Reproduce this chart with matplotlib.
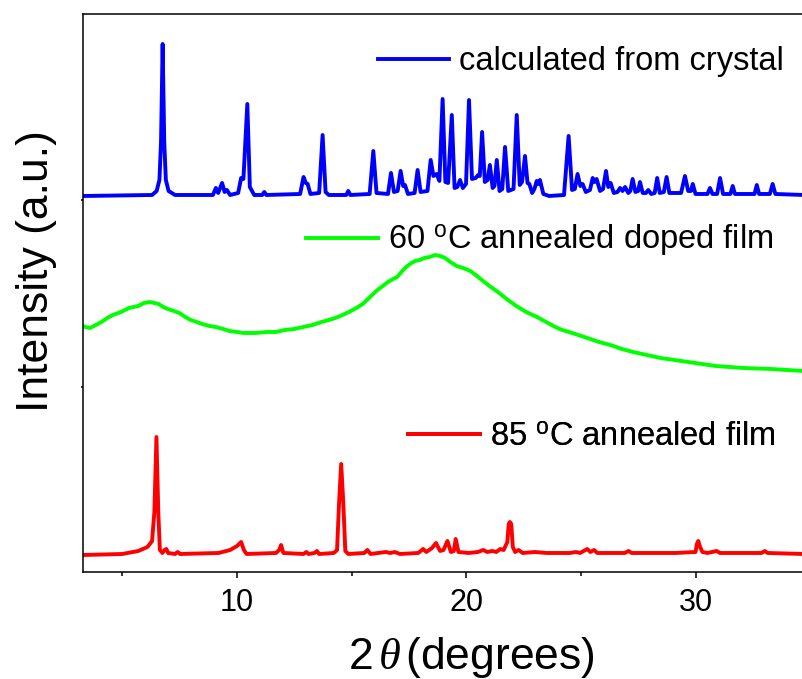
import numpy as np
import matplotlib.pyplot as plt
from matplotlib import ticker

plt.rcParams['font.family'] = ['Liberation Sans', 'DejaVu Sans']
plt.rcParams['mathtext.fontset'] = 'custom'
plt.rcParams['mathtext.rm'] = 'Liberation Sans'
plt.rcParams['mathtext.it'] = 'Liberation Serif:italic'

# traced patterns: (2theta, stacked intensity in a.u.)
calc_pts = [(3.3, 376), (6.30, 377), (6.50, 381), (6.62, 392), (6.69, 430), (6.76, 528), (6.83, 430),
            (6.90, 392), (7.02, 381), (7.30, 377), (8.95, 377), (9.08, 384), (9.18, 379), (9.35, 389),
            (9.46, 380), (9.56, 382), (9.70, 377), (10.05, 379), (10.18, 394), (10.28, 393), (10.45, 468),
            (10.56, 385), (10.75, 377), (11.10, 377), (11.19, 380), (11.28, 377), (12.75, 378), (12.90, 395),
            (13.00, 389), (13.08, 388), (13.20, 378), (13.58, 379), (13.73, 437), (13.86, 380), (14.0, 377),
            (14.76, 377), (14.85, 381), (14.94, 377), (15.78, 378), (15.94, 421), (16.08, 379), (16.58, 378),
            (16.71, 399), (16.84, 380), (17.0, 381), (17.13, 401), (17.24, 386), (17.32, 387), (17.45, 378),
            (17.74, 379), (17.87, 402), (18.0, 380), (18.3, 381), (18.44, 412), (18.56, 396), (18.70, 398),
            (18.82, 391), (18.96, 473), (19.08, 390), (19.20, 389), (19.36, 457), (19.48, 384), (19.60, 385),
            (19.72, 392), (19.84, 384), (19.98, 388), (20.11, 472), (20.24, 393), (20.40, 394), (20.51, 397),
            (20.58, 396), (20.68, 440), (20.80, 390), (20.92, 392), (21.02, 407), (21.14, 384), (21.22, 386),
            (21.32, 412), (21.44, 381), (21.56, 383), (21.68, 425), (21.82, 381), (22.05, 383), (22.19, 457),
            (22.32, 387), (22.42, 390), (22.55, 416), (22.66, 389), (22.74, 388), (22.86, 379), (22.96, 383),
            (23.06, 391), (23.13, 388), (23.20, 392), (23.35, 378), (23.6, 376), (24.25, 377), (24.45, 436),
            (24.60, 382), (24.72, 383), (24.84, 398), (24.96, 386), (25.06, 388), (25.20, 380), (25.38, 382),
            (25.50, 394), (25.58, 390), (25.67, 393), (25.82, 381), (25.95, 383), (26.08, 401), (26.18, 385),
            (26.28, 389), (26.42, 379), (26.58, 380), (26.69, 384), (26.80, 381), (26.91, 385), (27.05, 379),
            (27.14, 381), (27.24, 393), (27.36, 380), (27.48, 381), (27.56, 390), (27.68, 379), (27.82, 379),
            (27.92, 382), (28.05, 378), (28.20, 379), (28.31, 394), (28.42, 379), (28.60, 380), (28.72, 395),
            (28.84, 379), (29.35, 379), (29.52, 396), (29.66, 381), (29.78, 381), (29.86, 388), (29.98, 378),
            (30.50, 378), (30.61, 384), (30.72, 378), (30.92, 378), (31.05, 394), (31.18, 378), (31.50, 378),
            (31.60, 386), (31.70, 378), (32.55, 378), (32.65, 387), (32.75, 378), (33.22, 378), (33.34, 388),
            (33.46, 378), (34.7, 377)]

film60_pts = [(3.30, 246), (3.39, 245), (3.59, 244), (3.85, 247), (4.09, 250), (4.35, 254), (4.59, 257),
              (4.95, 260), (5.29, 264), (5.69, 266), (5.95, 269), (6.19, 270), (6.40, 269), (6.59, 268),
              (6.78, 265), (6.98, 263), (7.25, 261), (7.49, 259), (7.75, 255), (7.98, 252), (8.25, 250),
              (8.48, 248), (8.80, 246), (9.08, 245), (9.40, 243), (9.68, 241), (10.0, 240), (10.28, 239),
              (10.80, 239), (11.28, 240), (11.70, 240), (12.08, 242), (12.50, 243), (12.88, 245), (13.30, 247),
              (13.68, 250), (14.0, 252), (14.28, 254), (14.60, 257), (14.88, 260), (15.20, 264), (15.48, 268),
              (15.80, 275), (16.07, 281), (16.35, 286), (16.58, 290), (16.80, 293), (16.98, 295), (17.20, 301),
              (17.37, 305), (17.60, 309), (17.77, 311), (17.97, 312), (18.17, 314), (18.40, 315), (18.63, 317),
              (18.85, 316), (19.07, 314), (19.30, 310), (19.57, 306), (19.85, 304), (20.17, 301), (20.40, 297),
              (20.67, 292), (21.00, 286), (21.37, 280), (21.75, 273), (22.17, 266), (22.60, 260), (23.07, 255),
              (23.47, 250), (23.87, 245), (24.17, 242), (24.47, 240), (24.87, 237), (25.27, 234), (25.77, 230),
              (26.27, 227), (26.77, 223), (27.26, 220), (27.86, 217), (28.46, 214), (29.06, 212), (29.66, 210),
              (30.26, 208), (30.86, 206), (31.46, 205), (32.06, 204), (32.66, 203.5), (33.26, 203),
              (33.96, 202), (34.7, 201)]

film85_pts = [(3.3, 17), (5.0, 18), (5.7, 21), (6.1, 25), (6.30, 31), (6.40, 60), (6.49, 135), (6.57, 60),
              (6.64, 22), (6.75, 19), (6.84, 22), (6.92, 23), (7.0, 19), (7.3, 18), (7.42, 20), (7.52, 18),
              (9.2, 19), (9.7, 22), (10.0, 26), (10.18, 30), (10.30, 22), (10.42, 18), (11.70, 19), (11.84, 22),
              (11.92, 27), (12.02, 19), (12.9, 18), (13.02, 20), (13.12, 18), (13.38, 19), (13.48, 21),
              (13.58, 18), (14.22, 19), (14.36, 22), (14.45, 70), (14.54, 108), (14.63, 70), (14.72, 21),
              (14.85, 18), (15.55, 19), (15.68, 22), (15.82, 18), (16.48, 20), (16.68, 19), (16.88, 20),
              (17.1, 18), (17.9, 19), (18.11, 23), (18.25, 20), (18.50, 24), (18.67, 29), (18.85, 21),
              (19.0, 22), (19.17, 31), (19.32, 20), (19.45, 21), (19.53, 33), (19.65, 20), (20.1, 19),
              (20.5, 20), (20.73, 22), (20.9, 20), (21.13, 21), (21.30, 20), (21.47, 23), (21.62, 22),
              (21.78, 30), (21.84, 48), (21.89, 50), (21.95, 48), (22.02, 25), (22.12, 20), (22.27, 22),
              (22.45, 19), (22.97, 20), (23.5, 19), (24.5, 19), (24.77, 20), (24.95, 19), (25.26, 23),
              (25.40, 20), (25.56, 22), (25.70, 19), (26.17, 19), (26.9, 19), (27.06, 21), (27.2, 19),
              (29.1, 19), (29.98, 20), (30.04, 28), (30.10, 31), (30.18, 25), (30.28, 20), (30.5, 19),
              (30.90, 21), (31.05, 19), (32.85, 19), (33.00, 21), (33.12, 19), (34.7, 18)]

labels = ['calculated from crystal', '60 $^{\\mathrm{o}}$C annealed doped film', '85 $^{\\mathrm{o}}$C annealed film']
colors = ['#0000ff', '#00ff00', '#ff0000']
# legend anchors (axes fraction, right edge / vertical centre)
anchors = [(0.975, 0.914), (0.960, 0.594), (0.963, 0.242)]

fig = plt.figure(figsize=(8.02, 6.79), dpi=100)
ax = fig.add_axes([0.1035, 0.1576, 0.8965, 0.8218])

lines = []
for pts, c in zip([calc_pts, film60_pts, film85_pts], colors):
    x, y = np.array(pts).T
    ln, = ax.plot(x, y, color=c, lw=2.8, solid_joinstyle='round')
    lines.append(ln)

# one legend per pattern, placed next to its curve
for ln, lab, (ax_x, ax_y) in zip(lines, labels, anchors):
    leg = ax.legend([ln], [lab], loc='center right', bbox_to_anchor=(ax_x, ax_y), frameon=False,
                    fontsize=23.5, handlelength=2.2, handletextpad=0.3, borderpad=0, borderaxespad=0)
    ax.add_artist(leg)

ax.set_xlim(3.29, 34.62)
ax.set_ylim(0, 558)
ax.xaxis.set_major_locator(ticker.MultipleLocator(10))
ax.xaxis.set_minor_locator(ticker.MultipleLocator(5))
ax.set_yticks([185, 372])
ax.set_yticklabels([])
ax.tick_params(axis='x', which='major', direction='out', length=4.5, width=1.1, labelsize=22, pad=7)
ax.tick_params(axis='x', which='minor', direction='out', length=3, width=1.1)
ax.tick_params(axis='y', direction='out', length=1.5, width=1.1)
ax.spines['right'].set_visible(False)
for s in ['left', 'bottom', 'top']:
    ax.spines[s].set_linewidth(1.1)

ax.set_xlabel(r'2$\,\theta\,$(degrees)', fontsize=32, labelpad=12)
ax.set_ylabel('Intensity (a.u.)', fontsize=32, labelpad=14)
ax.xaxis.label.set_x(0.54)
ax.yaxis.label.set_y(0.54)

fig.savefig('out.png', dpi=100)
